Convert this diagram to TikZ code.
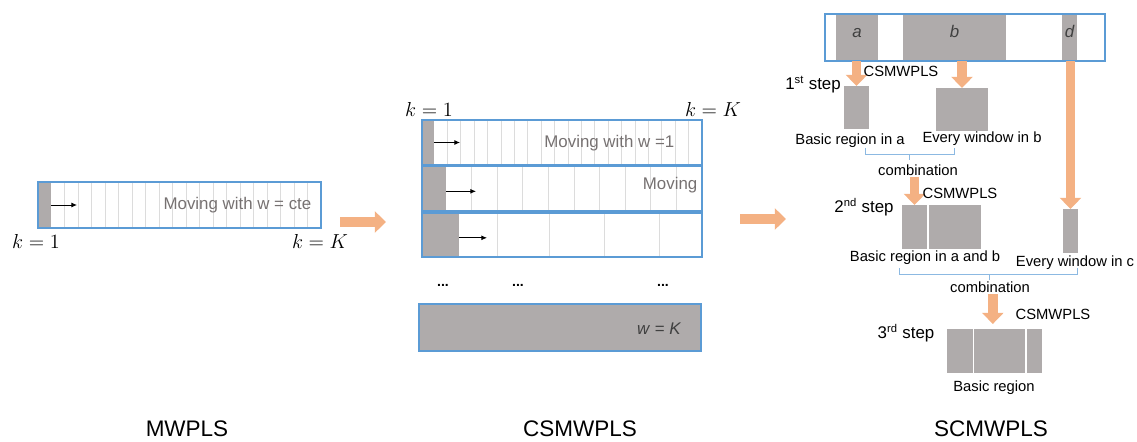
\documentclass[tikz,border=0pt]{standalone}
\usepackage{fontspec}
\setmainfont{Liberation Sans}
\usepackage{amsmath}
\usetikzlibrary{arrows.meta, calc, positioning, fit}
\definecolor{frameblue}{RGB}{91,155,213}
\definecolor{wingray}{RGB}{175,171,171}
\definecolor{arroworange}{RGB}{244,177,131}
\definecolor{textgray}{RGB}{118,113,113}
\definecolor{darktext}{RGB}{64,64,64}
\definecolor{gridgray}{RGB}{220,220,220}

\tikzset{
  frame/.style={draw=frameblue, line width=1.8pt, inner sep=0pt, outer sep=0pt},
  winbox/.style={fill=wingray, inner sep=0pt, outer sep=0pt},
  regionbox/.style={winbox, text=darktext, font=\fontsize{12}{14}\selectfont\itshape},
  gridline/.style={draw=gridgray, line width=0.5pt},
  winarrow/.style={-{Latex[length=4pt, width=3.5pt]}, line width=0.6pt},
  blockarrow/.style={arroworange, line width=7pt, -{Triangle[length=8pt, width=15pt]}},
  movetext/.style={text=textgray, font=\fontsize{12}{14}\selectfont, inner sep=1pt},
  klabel/.style={font=\fontsize{15.5}{18}\selectfont, inner sep=1pt},
  lbl/.style={font=\fontsize{10.5}{12}\selectfont, inner sep=1pt},
  steplbl/.style={font=\fontsize{12}{14}\selectfont, inner sep=1pt},
  title/.style={font=\fontsize{16}{19}\selectfont, inner sep=1pt},
  bracket/.style={draw=frameblue!70, line width=0.5pt}
}

\begin{document}
\begin{tikzpicture}[x=0.025cm, y=-0.025cm, >=Stealth]
\useasboundingbox (0,0) rectangle (1137,441);

% MWPLS: one window of constant width
\foreach \i in {1,...,19}
  \draw[gridline] ({51+\i*13.5},182) -- ({51+\i*13.5},228);
\node[winbox, fit={(38,182)(51,228)}] (mwwin) {};
\node[frame, fit={(38,182)(321,228)}] (mwbar) {};
\draw[winarrow] (mwwin.east) -- ++(26,0);
\node[movetext, anchor=east] (mwtext) at (313,205) {Moving with w = cte};
\node[klabel] (mwk1) at (36,241) {$k=1$};
\node[klabel] (mwkK) at (320,241) {$k=K$};

\coordinate (mwout) at (340,222);
\coordinate (csin) at (386,222);
\draw[blockarrow] (mwout) -- (csin);

% CSMWPLS: windows of growing width
\node[klabel] (csk1) at (429,109) {$k=1$};
\node[klabel] (cskK) at (713,109) {$k=K$};

\foreach \i in {1,...,19}
  \draw[gridline] ({434+\i*13.4},120) -- ({434+\i*13.4},165);
\node[winbox, fit={(422,120)(434,165)}] (cswinA) {};
\node[frame, fit={(422,120)(702,165)}] (csbarA) {};
\draw[winarrow] (cswinA.east) -- ++(26,0);
\node[movetext, anchor=east] (cstextA) at (676,143) {Moving with w =1};

\foreach \i in {1,...,9}
  \draw[gridline] ({446+\i*25.6},166) -- ({446+\i*25.6},211);
\node[winbox, fit={(422,166)(446,211)}] (cswinB) {};
\node[frame, fit={(422,166)(702,211)}] (csbarB) {};
\draw[winarrow] ([yshift=-2]cswinB.east) -- ++(30,0);
\node[movetext, anchor=east] (cstextB) at (699,185) {Moving};

\foreach \x in {497,549,604,659}
  \draw[gridline] (\x,213) -- (\x,257);
\node[winbox, fit={(422,213)(459,257)}] (cswinC) {};
\node[frame, fit={(422,213)(702,257)}] (csbarC) {};
\draw[winarrow] ([yshift=-2]cswinC.east) -- ++(28,0);

\foreach \x/\n in {443/a, 518/b, 663/c}
  \node[lbl, font=\bfseries\fontsize{10}{12}\selectfont] (dots\n) at (\x,285) {...};

\node[frame, fill=wingray, fit={(419,304)(701,351)}] (csfull) {};
\node[movetext, text=darktext, anchor=east] (csfulltext) at (683,329) {\textit{w} = \textit{K}};

\coordinate (csout) at (740,219);
\coordinate (scin) at (786,219);
\draw[blockarrow] (csout) -- (scin);

% SCMWPLS: combining selected regions step by step
\node[regionbox, fit={(836,14)(878,61)}] (ra) {a};
\node[regionbox, fit={(903,14)(1006,61)}] (rb) {b};
\node[regionbox, fit={(1062,14)(1077,61)}] (rd) {d};
\node[frame, fit={(825,14)(1105,61)}] (scbar) {};

% 1st step
\node[winbox, fit={(844,86)(869,129)}] (basicA) {};
\node[winbox, fit={(936,88)(988,131)}] (everyB) {};
\draw[blockarrow] (ra.south -| basicA.north) -- (basicA.north);
\draw[blockarrow] (rb.south -| everyB.north) -- (everyB.north);
\node[lbl] (cs1) at (901,71) {CSMWPLS};
\node[steplbl] (step1) at (813,85) {1\textsuperscript{st} step};
\node[lbl] (basicAtext) at (850,141) {Basic region in a};
\node[lbl] (everyBtext) at (982,139) {Every window in b};
\draw[bracket] (865,148) -- (865,154) -- (954,154) -- (954,148);
\draw[bracket] (909,154) -- (909,160);
\node[lbl] (comb1) at (918,170) {combination};

% 2nd step
\node[winbox, fit={(902,205)(927,249)}] (basicAB1) {};
\node[winbox, fit={(929,205)(981,249)}] (basicAB2) {};
\node[winbox, fit={(1063,209)(1078,253)}] (everyC) {};
\draw[blockarrow] (comb1.south -| basicAB1.north) -- (basicAB1.north);
\draw[blockarrow] (rd.south -| everyC.north) -- (everyC.north);
\node[lbl] (cs2) at (960,193) {CSMWPLS};
\node[steplbl] (step2) at (864,207) {2\textsuperscript{nd} step};
\node[lbl] (basicABtext) at (925,258) {Basic region in a and b};
\node[lbl] (everyCtext) at (1075,263) {Every window in c};
\draw[bracket] (899,268) -- (899,274) -- (1077,274) -- (1077,268);
\draw[bracket] (989,274) -- (989,280);
\node[lbl] (comb2) at (990,287) {combination};

% 3rd step
\node[winbox, fit={(947,329)(973,373)}] (basic1) {};
\node[winbox, fit={(974,329)(1025,373)}] (basic2) {};
\node[winbox, fit={(1027,329)(1042,373)}] (basic3) {};
\draw[blockarrow] ([xshift=2]comb2.south) -- ([xshift=2]comb2.south |- 0,324);
\node[lbl] (cs3) at (1053,314) {CSMWPLS};
\node[steplbl] (step3) at (906,333) {3\textsuperscript{rd} step};
\node[lbl] (basictext) at (994,388) {Basic region};

% titles
\node[title] (tmw) at (187,429) {MWPLS};
\node[title] (tcs) at (580,429) {CSMWPLS};
\node[title] (tsc) at (991,429) {SCMWPLS};
\end{tikzpicture}
\end{document}
